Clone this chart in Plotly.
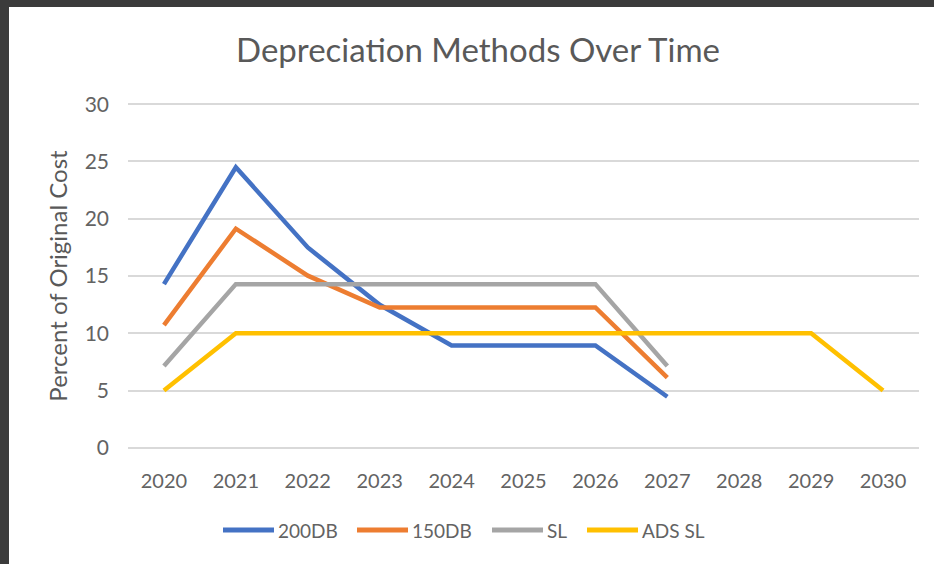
import plotly.graph_objects as go

years = ["2020", "2021", "2022", "2023", "2024", "2025", "2026", "2027", "2028", "2029", "2030"]
db200 = [14.29, 24.49, 17.49, 12.49, 8.93, 8.92, 8.93, 4.46]
db150 = [10.71, 19.13, 15.03, 12.25, 12.25, 12.25, 12.25, 6.13]
sl = [7.14, 14.29, 14.29, 14.29, 14.29, 14.29, 14.29, 7.14]
ads_sl = [5, 10, 10, 10, 10, 10, 10, 10, 10, 10, 5]

series_names = ["200DB", "150DB", "SL", "ADS SL"]
series_values = [db200, db150, sl, ads_sl]
series_colors = ["#4472C4", "#ED7D31", "#A5A5A5", "#FFC000"]

FONT = "Lato"
GRAY = "#595959"
TICKGRAY = "#636363"

L, R, T, B = 128, 15, 103, 115
W, H = 934, 564
pw, ph = W - L - R, H - T - B

def px(x):
    return (x - L) / pw

def py(y):
    return (H - B - y) / ph

fig = go.Figure()
for name, vals, color in zip(series_names, series_values, series_colors):
    fig.add_trace(go.Scatter(
        x=years[:len(vals)], y=vals, name=name, mode="lines",
        line=dict(color=color, width=4.5),
    ))

# Excel-style legend: long line swatch followed by label
legend_starts = [223, 357, 492, 587]  # pixel x of each legend swatch
legend_y = 530
shapes = []
annotations = []
for name, color, x0 in zip(series_names, series_colors, legend_starts):
    shapes.append(dict(type="line", xref="paper", yref="paper",
                       x0=px(x0), x1=px(x0 + 51), y0=py(legend_y), y1=py(legend_y),
                       line=dict(color=color, width=5)))
    annotations.append(dict(text=name, xref="paper", yref="paper",
                            x=px(x0 + 53), y=py(legend_y), xanchor="left", yanchor="middle",
                            showarrow=False, font=dict(size=19, color=TICKGRAY, family=FONT)))

shapes += [
    dict(type="rect", xref="paper", yref="paper", x0=px(0), x1=px(W), y0=py(7), y1=py(0),
         fillcolor="#3B3B3B", line=dict(width=0), layer="above"),
    dict(type="rect", xref="paper", yref="paper", x0=px(0), x1=px(9), y0=py(H), y1=py(0),
         fillcolor="#3B3B3B", line=dict(width=0), layer="above"),
]

fig.update_layout(
    width=W, height=H,
    margin=dict(l=L, r=R, t=T, b=B, autoexpand=False),
    paper_bgcolor="white", plot_bgcolor="white",
    font=dict(family=FONT, color=GRAY),
    title=dict(text="Depreciation Methods Over Time", x=478 / W, xanchor="center",
               y=1 - 50 / H, yanchor="middle",
               font=dict(size=33, color=GRAY, family=FONT)),
    xaxis=dict(type="category", categoryorder="array", categoryarray=years,
               range=[-0.5, 10.5], showgrid=False, zeroline=False, showline=False,
               ticks="", tickfont=dict(size=20, color=TICKGRAY), ticklabelstandoff=18),
    yaxis=dict(range=[-0.1, 30.1], tickvals=[0, 5, 10, 15, 20, 25, 30],
               showgrid=True, gridcolor="#D9D9D9", gridwidth=1.5,
               zeroline=False, showline=False, ticks="",
               tickfont=dict(size=21, color=TICKGRAY), ticklabelstandoff=18,
               title=dict(text="Percent of Original Cost", font=dict(size=24, color=GRAY),
                          standoff=10)),
    showlegend=False,
    shapes=shapes,
    annotations=annotations,
)

fig.write_html("out.html", config={"displayModeBar": False},
               post_script="document.body.style.margin='0';document.body.style.padding='0';")
